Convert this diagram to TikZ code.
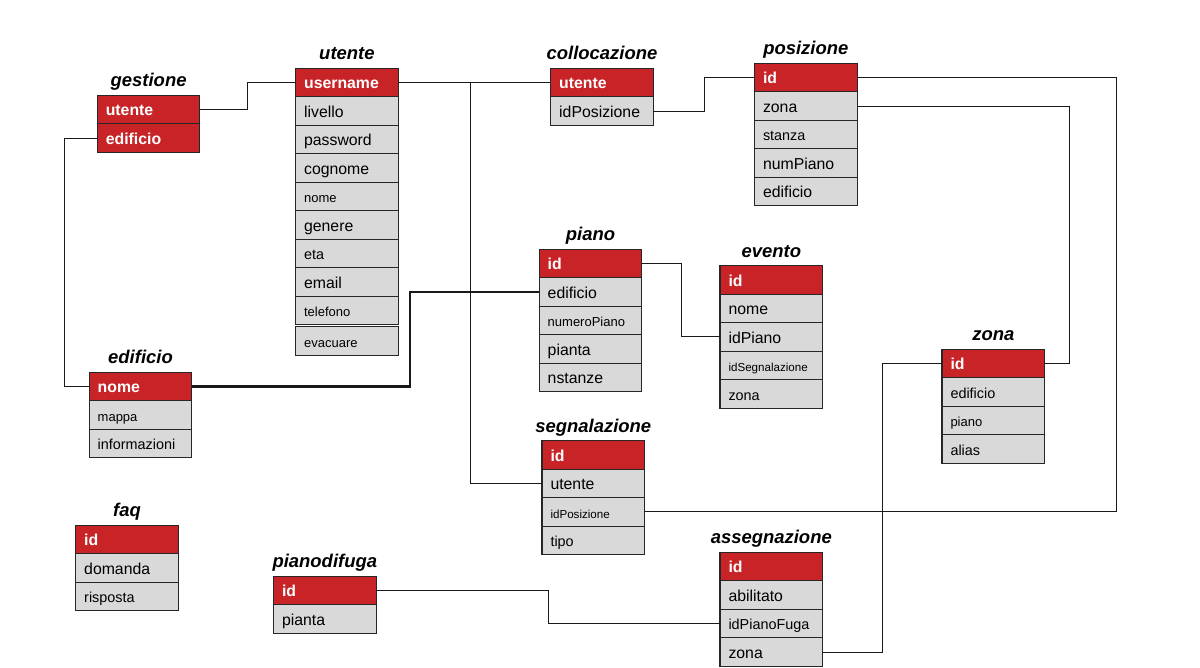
\documentclass[tikz,border=0pt]{standalone}
\usepackage{fontspec}
\setmainfont{Liberation Sans}
\usetikzlibrary{positioning}
\definecolor{keyred}{RGB}{200,36,40}
\definecolor{cellgray}{RGB}{217,217,217}
\tikzset{
  cell/.style={draw=black!85,fill=cellgray,line width=0.6pt,outer sep=0pt,inner xsep=0.17cm,inner ysep=0pt,
    text width=1.712cm,minimum height=0.57cm,align=left,text height=8.4pt,text depth=1.4pt,font=\fontsize{9}{10}\selectfont},
  mid/.style={cell,font=\fontsize{8.2}{9}\selectfont},
  small/.style={cell,font=\fontsize{7.4}{8}\selectfont},
  tiny/.style={cell,font=\fontsize{6.6}{7}\selectfont},
  key/.style={cell,fill=keyred,text=white,font=\fontsize{9}{10}\selectfont\bfseries},
  ttl/.style={anchor=base,inner sep=0pt,font=\fontsize{10.5}{12}\selectfont\bfseries\itshape},
  link/.style={line width=0.6pt,draw=black!90},
}
\begin{document}
\begin{tikzpicture}[x=0.02cm,y={(0,-0.02cm)}]
 \useasboundingbox (0,0) rectangle (1200,668);
 % gestione
 \node[ttl] (gestione) at (148.6,86.8) {gestione};
 \node[key] (ges1) at (148.6,109.55) {utente};
 \node[key,below=0pt of ges1] (ges2) {edificio};
 % utente
 \node[ttl] (utente) at (346.9,59.8) {utente};
 \node[key] (ute1) at (346.9,82.55) {username};
 \node[cell,below=0pt of ute1] (ute2) {livello};
 \node[cell,below=0pt of ute2] (ute3) {password};
 \node[cell,below=0pt of ute3] (ute4) {cognome};
 \node[small,below=0pt of ute4] (ute5) {nome};
 \node[cell,below=0pt of ute5] (ute6) {genere};
 \node[mid,below=0pt of ute6] (ute7) {eta};
 \node[cell,below=0pt of ute7] (ute8) {email};
 \node[small,below=0pt of ute8] (ute9) {telefono};
 \node[small,below=0.04cm of ute9] (ute10) {evacuare};
 % collocazione
 \node[ttl] (collocazione) at (602,59.8) {collocazione};
 \node[key] (col1) at (602,82.55) {utente};
 \node[cell,below=0pt of col1] (col2) {idPosizione};
 % posizione
 \node[ttl] (posizione) at (805.8,54.8) {posizione};
 \node[key] (pos1) at (805.8,77.55) {id};
 \node[cell,below=0pt of pos1] (pos2) {zona};
 \node[mid,below=0pt of pos2] (pos3) {stanza};
 \node[cell,below=0pt of pos3] (pos4) {numPiano};
 \node[cell,below=0pt of pos4] (pos5) {edificio};
 % piano
 \node[ttl] (piano) at (590.5,240.8) {piano};
 \node[key] (pia1) at (590.5,263.55) {id};
 \node[cell,below=0pt of pia1] (pia2) {edificio};
 \node[small,below=0pt of pia2] (pia3) {numeroPiano};
 \node[cell,below=0pt of pia3] (pia4) {pianta};
 \node[cell,below=0pt of pia4] (pia5) {nstanze};
 % evento
 \node[ttl] (evento) at (771.3,257.2) {evento};
 \node[key] (eve1) at (771.3,279.95) {id};
 \node[cell,below=0pt of eve1] (eve2) {nome};
 \node[cell,below=0pt of eve2] (eve3) {idPiano};
 \node[tiny,below=0pt of eve3] (eve4) {idSegnalazione};
 \node[mid,below=0pt of eve4] (eve5) {zona};
 % edificio
 \node[ttl] (edificio) at (140.5,363.8) {edificio};
 \node[key] (edi1) at (140.5,386.55) {nome};
 \node[small,below=0pt of edi1] (edi2) {mappa};
 \node[mid,below=0pt of edi2] (edi3) {informazioni};
 % faq
 \node[ttl] (faq) at (127,516.8) {faq};
 \node[key] (faq1) at (127,539.55) {id};
 \node[cell,below=0pt of faq1] (faq2) {domanda};
 \node[mid,below=0pt of faq2] (faq3) {risposta};
 % pianodifuga
 \node[ttl] (pianodifuga) at (324.8,567.8) {pianodifuga};
 \node[key] (pdf1) at (324.8,590.55) {id};
 \node[cell,below=0pt of pdf1] (pdf2) {pianta};
 % segnalazione
 \node[ttl] (segnalazione) at (593.3,432.2) {segnalazione};
 \node[key] (seg1) at (593.3,454.95) {id};
 \node[cell,below=0pt of seg1] (seg2) {utente};
 \node[tiny,below=0pt of seg2] (seg3) {idPosizione};
 \node[mid,below=0pt of seg3] (seg4) {tipo};
 % assegnazione
 \node[ttl] (assegnazione) at (771.3,543.8) {assegnazione};
 \node[key] (ass1) at (771.3,566.55) {id};
 \node[cell,below=0pt of ass1] (ass2) {abilitato};
 \node[mid,below=0pt of ass2] (ass3) {idPianoFuga};
 \node[cell,below=0pt of ass3] (ass4) {zona};
 % zona
 \node[ttl] (zona) at (993.3,340.8) {zona};
 \node[key] (zon1) at (993.3,363.55) {id};
 \node[mid,below=0pt of zon1] (zon2) {edificio};
 \node[small,below=0pt of zon2] (zon3) {piano};
 \node[mid,below=0pt of zon3] (zon4) {alias};
 % links
 \draw[link] (ges1.east) -- ++(47.5,0) |- (ute1.west);
 \draw[link] (ges2.west) -- ++(-33,0) |- (edi1.west);
 \draw[link,line width=1.2pt] (edi1.east) -- ++(218.5,0) |- (pia2.west);
 \draw[link] (ute1.east) -- (col1.west);
 \draw[link] (ute1.east) -- ++(72,0) |- (seg2.west);
 \draw[link] (col2.east) -- ++(51,0) |- (pos1.west);
 \draw[link] (seg3.east) -- ++(471.9,0) |- (pos1.east);
 \draw[link] (pos2.east) -- ++(212,0) |- (zon1.east);
 \draw[link] (pia1.east) -- ++(40,0) |- (eve3.west);
 \draw[link] (pdf1.east) -- ++(172,0) |- (ass3.west);
 \draw[link] (ass4.east) -- ++(60,0) |- (zon1.west);
\end{tikzpicture}
\end{document}
